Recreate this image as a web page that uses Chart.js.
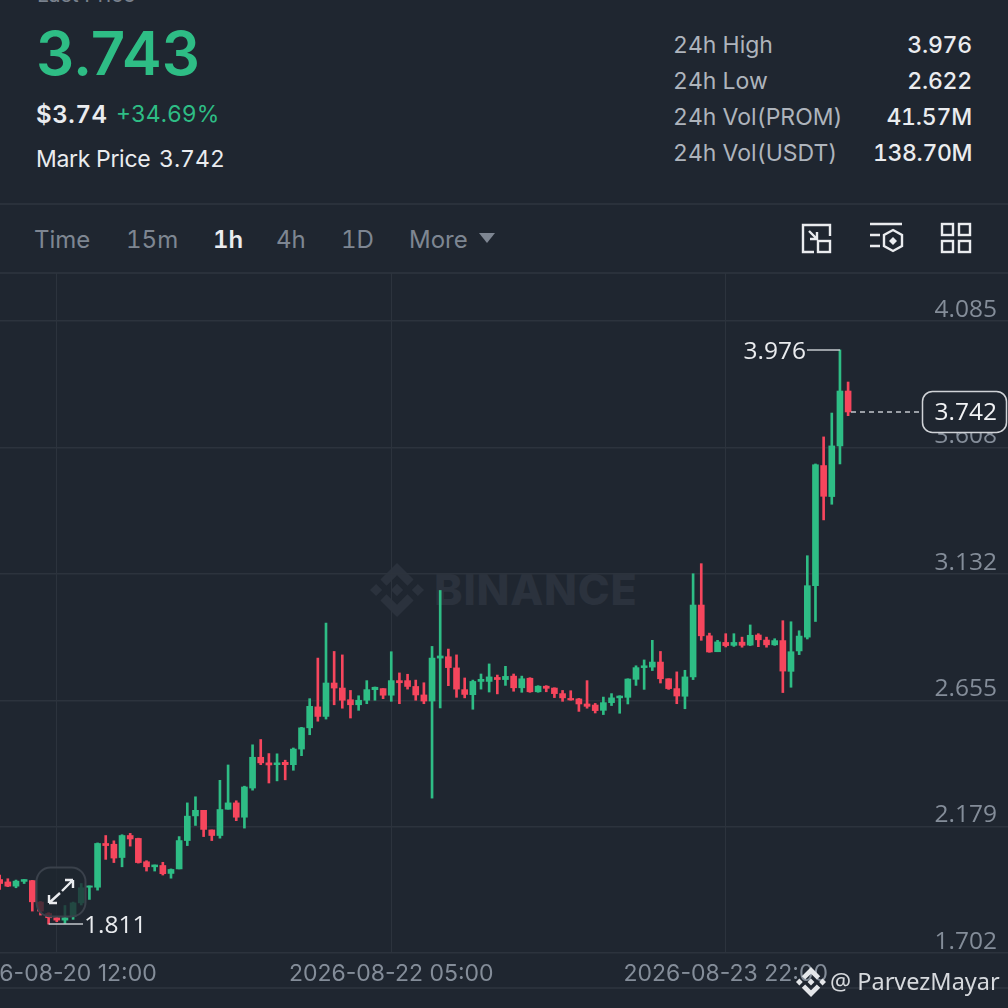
<!DOCTYPE html>
<html>
<head>
<meta charset="utf-8">
<script src="https://cdn.jsdelivr.net/npm/chart.js@4"></script>
<style>
    html, body { margin: 0; padding: 0; background: #1f2630; }
    body { position: relative; width: 1008px; height: 1008px; overflow: hidden; font-family: Inter, sans-serif; }
    .txt { position: absolute; white-space: nowrap; line-height: 1; font-variant-numeric: tabular-nums; }
    .line { position: absolute; left: 0; width: 1008px; height: 2px; background: #2a313b; }
    .grey { color: #aeb4bc; }
    .white { color: #eaecef; }
    .val { letter-spacing: -0.2px; }
    .tab { color: #7e8692; font-size: 24px; top: 228px; }
    #chart-box { position: absolute; left: 0; top: 273px; width: 1008px; height: 715px; }
    svg { position: absolute; }
</style>
</head>
<body>
    <div class="txt" style="left:37px;top:-16px;font-size:21px;color:#79818d">Last Price</div>
    <div class="txt" style="left:36px;top:23px;font-size:60px;font-weight:600;color:#2ebd85;font-variant-numeric:normal">3.743</div>
    <div class="txt white" style="left:36px;top:103px;font-size:24px;font-weight:600;letter-spacing:0.6px">$3.74</div>
    <div class="txt" style="left:116px;top:103px;font-size:23px;color:#2ebd85">+34.69%</div>
    <div class="txt white" style="left:36px;top:148px;font-size:23px;letter-spacing:-0.3px">Mark Price</div>
    <div class="txt white" style="left:159px;top:148px;font-size:23px">3.742</div>

    <div class="txt grey" style="left:673px;top:34px;font-size:23px">24h High</div>
    <div class="txt grey" style="left:673px;top:70px;font-size:23px">24h Low</div>
    <div class="txt grey" style="left:673px;top:106px;font-size:23px">24h Vol(PROM)</div>
    <div class="txt grey" style="left:673px;top:142px;font-size:23px">24h Vol(USDT)</div>
    <div class="txt white val" style="right:36px;top:34px;font-size:23px;font-weight:500">3.976</div>
    <div class="txt white val" style="right:36px;top:70px;font-size:23px;font-weight:500">2.622</div>
    <div class="txt white val" style="right:36px;top:106px;font-size:23px;font-weight:500">41.57M</div>
    <div class="txt white val" style="right:36px;top:142px;font-size:23px;font-weight:500;letter-spacing:-0.4px">138.70M</div>

    <div class="line" style="top:203px"></div>
    <div class="txt tab" style="left:34px">Time</div>
    <div class="txt tab" style="left:126px">15m</div>
    <div class="txt tab" style="left:213px;color:#eaecef;font-weight:600">1h</div>
    <div class="txt tab" style="left:276px">4h</div>
    <div class="txt tab" style="left:341px">1D</div>
    <div class="txt tab" style="left:409px">More</div>
    <svg style="left:479px;top:233px" width="16" height="11"><path d="M0 0H16L8 10Z" fill="#7e8692"/></svg>

    <svg style="left:800px;top:222px" width="33" height="33" fill="none" stroke="#eaecef" stroke-width="2.4">
        <path d="M14 30H3V3H30V14"/><rect x="18" y="19" width="12" height="11"/><path d="M9 9L17 17M17 10V17H10"/>
    </svg>
    <svg style="left:868px;top:222px" width="36" height="33" fill="none" stroke="#eaecef" stroke-width="2.4">
        <path d="M2 2H34M2 13H12M2 24H12"/><path d="M25 8L34 13V24L25 29L16 24V13Z"/><path d="M25 15L29 19L25 23L21 19Z" fill="#eaecef" stroke="none"/>
    </svg>
    <svg style="left:940px;top:222px" width="33" height="33" fill="none" stroke="#eaecef" stroke-width="2.4">
        <rect x="2" y="2" width="11" height="11"/><rect x="19" y="2" width="11" height="11"/>
        <rect x="2" y="19" width="11" height="11"/><rect x="19" y="19" width="11" height="11"/>
    </svg>

    <div class="line" style="top:272px"></div>

    <!-- faint watermark sits under the chart -->
    <svg style="left:370px;top:563px" width="54" height="54" viewBox="0 0 126.61 126.61" fill="#2b323d">
        <path d="M38.73 53.2l24.59-24.58 24.6 24.6 14.3-14.31L63.32 0 24.42 38.9z"/>
        <path d="M0 63.31l14.3-14.31 14.31 14.31-14.31 14.3z"/>
        <path d="M38.73 73.41L63.32 98l24.6-24.6 14.31 14.29-38.9 38.91-38.91-38.88-.02-.02z"/>
        <path d="M98 63.31l14.3-14.31 14.31 14.31-14.31 14.3z"/>
        <path d="M77.83 63.3L63.32 48.78 52.59 59.51l-1.24 1.23-2.54 2.54 14.51 14.5 14.51-14.5z"/>
    </svg>
    <div class="txt" style="left:434px;top:568px;font-size:43px;font-weight:800;letter-spacing:0.8px;color:#2b323d">BINANCE</div>

    <div id="chart-box"><canvas id="price-chart" width="1008" height="715"></canvas></div>
    <div class="line" style="top:987px"></div>

    <!-- expand button over the chart -->
    <svg style="left:35px;top:866px" width="52" height="52" fill="none">
        <rect x="1.5" y="1.5" width="49" height="49" rx="14" fill="rgba(31,38,48,0.78)" stroke="#3a414b" stroke-width="2"/>
        <path d="M14 37L25 27M14 37V29M14 37H22M38 14L27 25M38 14V22M38 14H30" stroke="#eaecef" stroke-width="2.4"/>
    </svg>

    <svg style="left:796px;top:967px" width="30" height="30" viewBox="0 0 126.61 126.61" fill="#e4e6e9">
        <path d="M38.73 53.2l24.59-24.58 24.6 24.6 14.3-14.31L63.32 0 24.42 38.9z"/>
        <path d="M0 63.31l14.3-14.31 14.31 14.31-14.31 14.3z"/>
        <path d="M38.73 73.41L63.32 98l24.6-24.6 14.31 14.29-38.9 38.91-38.91-38.88-.02-.02z"/>
        <path d="M98 63.31l14.3-14.31 14.31 14.31-14.31 14.3z"/>
        <path d="M77.83 63.3L63.32 48.78 52.59 59.51l-1.24 1.23-2.54 2.54 14.51 14.5 14.51-14.5z"/>
    </svg>
    <div class="txt" style="left:830px;top:970px;font-family:'Noto Sans';font-size:23.5px;color:#d6d9dd">@ ParvezMayar</div>

<script>
const FIRST_CANDLE = -7; // candles before the 08-20 12:00 grid line

const opens = [
    1.979, 1.970, 1.954, 1.972, 1.975, 1.894, 1.851,
    1.835, 1.826, 1.841, 1.891, 1.950, 1.950, 2.115, 2.112, 2.062, 2.145,
    2.134, 2.046, 2.027, 2.032, 2.002, 2.019, 2.126, 2.219, 2.240, 2.166,
    2.145, 2.244, 2.268, 2.214, 2.324, 2.440, 2.419, 2.412, 2.421, 2.412,
    2.471, 2.551, 2.630, 2.594, 2.720, 2.701, 2.657, 2.638, 2.655, 2.695,
    2.699, 2.674, 2.729, 2.729, 2.707, 2.675, 2.652, 2.814, 2.819, 2.777,
    2.695, 2.676, 2.726, 2.726, 2.741, 2.733, 2.746, 2.702, 2.738, 2.687,
    2.708, 2.701, 2.680, 2.662, 2.660, 2.641, 2.637, 2.617, 2.646, 2.664,
    2.666, 2.734, 2.778, 2.780, 2.799, 2.736, 2.699, 2.670, 2.743, 3.014,
    2.898, 2.838, 2.873, 2.862, 2.874, 2.863, 2.901, 2.882, 2.864, 2.880,
    2.764, 2.841, 2.893, 3.087, 3.540, 3.423, 3.614, 3.821
];
const highs = [
    1.996, 1.982, 1.977, 1.979, 1.976, 1.896, 1.854,
    1.837, 1.881, 1.894, 1.964, 1.955, 2.117, 2.145, 2.125, 2.148, 2.153,
    2.135, 2.050, 2.034, 2.044, 2.019, 2.141, 2.268, 2.291, 2.240, 2.166,
    2.353, 2.411, 2.276, 2.331, 2.487, 2.507, 2.454, 2.453, 2.429, 2.475,
    2.553, 2.661, 2.814, 2.946, 2.839, 2.826, 2.692, 2.672, 2.729, 2.705,
    2.699, 2.838, 2.758, 2.753, 2.731, 2.721, 2.858, 3.069, 2.848, 2.826,
    2.739, 2.731, 2.754, 2.792, 2.750, 2.783, 2.754, 2.746, 2.740, 2.710,
    2.710, 2.702, 2.692, 2.691, 2.662, 2.729, 2.643, 2.667, 2.680, 2.672,
    2.736, 2.785, 2.807, 2.881, 2.839, 2.736, 2.762, 2.768, 3.132, 3.170,
    2.908, 2.881, 2.906, 2.906, 2.893, 2.939, 2.906, 2.893, 2.887, 2.955,
    2.951, 2.917, 3.200, 3.546, 3.648, 3.738, 3.976, 3.855
];
const lows = [
    1.942, 1.952, 1.948, 1.964, 1.860, 1.845, 1.811,
    1.820, 1.813, 1.829, 1.883, 1.904, 1.939, 2.055, 2.043, 2.027, 2.105,
    2.041, 2.011, 2.011, 1.996, 1.984, 2.019, 2.107, 2.183, 2.141, 2.126,
    2.135, 2.244, 2.201, 2.173, 2.316, 2.412, 2.343, 2.351, 2.355, 2.391,
    2.446, 2.525, 2.576, 2.584, 2.638, 2.625, 2.588, 2.617, 2.642, 2.655,
    2.661, 2.651, 2.642, 2.697, 2.655, 2.642, 2.286, 2.626, 2.710, 2.666,
    2.664, 2.621, 2.697, 2.686, 2.679, 2.711, 2.689, 2.685, 2.685, 2.685,
    2.687, 2.665, 2.651, 2.655, 2.613, 2.625, 2.607, 2.601, 2.635, 2.606,
    2.641, 2.711, 2.696, 2.767, 2.720, 2.696, 2.642, 2.623, 2.733, 2.881,
    2.836, 2.838, 2.856, 2.858, 2.855, 2.861, 2.857, 2.855, 2.862, 2.684,
    2.704, 2.827, 2.886, 2.952, 3.335, 3.394, 3.546, 3.728
];
const closes = [
    1.964, 1.954, 1.973, 1.979, 1.895, 1.860, 1.835,
    1.826, 1.835, 1.891, 1.948, 1.955, 2.115, 2.107, 2.060, 2.145, 2.132,
    2.043, 2.027, 2.034, 2.001, 2.017, 2.126, 2.218, 2.240, 2.168, 2.145,
    2.243, 2.268, 2.214, 2.328, 2.440, 2.419, 2.411, 2.419, 2.412, 2.471,
    2.551, 2.632, 2.594, 2.720, 2.701, 2.655, 2.638, 2.655, 2.695, 2.704,
    2.674, 2.729, 2.721, 2.707, 2.675, 2.652, 2.814, 2.822, 2.778, 2.697,
    2.677, 2.726, 2.734, 2.743, 2.733, 2.745, 2.702, 2.736, 2.687, 2.708,
    2.700, 2.680, 2.664, 2.656, 2.641, 2.632, 2.616, 2.646, 2.664, 2.671,
    2.735, 2.778, 2.785, 2.799, 2.736, 2.699, 2.671, 2.743, 3.014, 2.898,
    2.837, 2.875, 2.861, 2.873, 2.862, 2.900, 2.883, 2.864, 2.880, 2.765,
    2.838, 2.897, 3.087, 3.543, 3.424, 3.614, 3.821, 3.742
];

const priceTicks = [4.085, 3.608, 3.132, 2.655, 2.179, 1.702];
const timeTicks = [0, 41, 82];
const timeLabels = ['2026-08-20 12:00', '2026-08-22 05:00', '2026-08-23 22:00'];

const highValue = 3.976;
const lowValue = 1.811;
const markValue = 3.742;

const GREEN = '#2ebd85';
const RED = '#f6465d';
const GRID = '#2c333d';

const candleNumbers = opens.map((o, i) => FIRST_CANDLE + i);
const candleColors = opens.map((o, i) => closes[i] >= o ? GREEN : RED);
const wickBars = candleNumbers.map((n, i) => ({ x: n, y: [lows[i], highs[i]] }));
const bodyBars = candleNumbers.map((n, i) => ({ x: n, y: [Math.min(opens[i], closes[i]), Math.max(opens[i], closes[i])] }));

//labels for the high, low and mark price, placed through the scales
const priceMarkers = {
    id: 'priceMarkers',
    afterDatasetsDraw(chart) {
        const { ctx, scales: { x, y } } = chart;
        ctx.save();
        ctx.font = '24.5px "Open Sans"';
        ctx.textBaseline = 'middle';

        //24h high
        const hiY = y.getPixelForValue(highValue);
        const hiX = x.getPixelForValue(96);
        ctx.strokeStyle = '#c4c8cd';
        ctx.lineWidth = 1.5;
        ctx.beginPath();
        ctx.moveTo(807, hiY);
        ctx.lineTo(hiX, hiY);
        ctx.stroke();
        ctx.fillStyle = '#eaecef';
        ctx.textAlign = 'right';
        ctx.fillText(highValue.toFixed(3), 806, hiY + 2);

        //24h low
        const loY = y.getPixelForValue(lowValue);
        ctx.beginPath();
        ctx.moveTo(x.getPixelForValue(-1), loY);
        ctx.lineTo(83, loY);
        ctx.stroke();
        ctx.textAlign = 'left';
        ctx.fillText(lowValue.toFixed(3), 84, loY + 2);

        //mark price dashed line and tag
        const markY = y.getPixelForValue(markValue);
        ctx.setLineDash([5, 4]);
        ctx.beginPath();
        ctx.moveTo(851, markY);
        ctx.lineTo(922, markY);
        ctx.stroke();
        ctx.setLineDash([]);
        ctx.beginPath();
        ctx.roundRect(922.5, markY - 20.5, 84, 41, 10);
        ctx.fillStyle = '#1f2630';
        ctx.fill();
        ctx.strokeStyle = '#d0d3d7';
        ctx.stroke();
        ctx.fillStyle = '#f2f3f5';
        ctx.textAlign = 'right';
        ctx.fillText(markValue.toFixed(3), 997, markY + 1);
        ctx.restore();
    }
};

const ctx = document.getElementById('price-chart').getContext('2d');
const priceChart = new Chart(ctx, {
    type: 'bar',
    data: {
        datasets: [
            {
                label: 'Wick',
                data: wickBars,
                backgroundColor: candleColors,
                barThickness: 2,
                grouped: false,
                borderSkipped: false
            },
            {
                label: 'Body',
                data: bodyBars,
                backgroundColor: candleColors,
                barThickness: 6,
                grouped: false,
                borderSkipped: false
            }
        ]
    },
    options: {
        responsive: false,
        animation: false,
        devicePixelRatio: 1,
        layout: { padding: 0 },
        plugins: {
            legend: { display: false },
            tooltip: { enabled: false }
        },
        scales: {
            x: {
                type: 'linear',
                min: -6.96,
                max: 116.6,
                offset: false,
                afterBuildTicks(scale) {
                    scale.ticks = timeTicks.map(value => ({ value }));
                },
                afterFit(scale) {
                    scale.height = 35;
                    scale.paddingLeft = 0;
                    scale.paddingRight = 0;
                },
                grid: { color: GRID, drawTicks: false, lineWidth: 1, offset: false },
                border: { display: false },
                ticks: {
                    autoSkip: false,
                    maxRotation: 0,
                    padding: 7,
                    color: '#848d99',
                    font: { family: 'Inter', size: 23 },
                    callback: value => timeLabels[timeTicks.indexOf(value)]
                }
            },
            y: {
                position: 'right',
                min: 1.702,
                max: 4.266,
                afterBuildTicks(scale) {
                    scale.ticks = priceTicks.map(value => ({ value }));
                },
                afterFit(scale) {
                    scale.width = 0;
                    scale.paddingTop = 0;
                    scale.paddingBottom = 0;
                },
                grid: { color: GRID, drawTicks: false, lineWidth: 1.5 },
                border: { display: false },
                ticks: {
                    mirror: true,
                    padding: -11,
                    labelOffset: -11,
                    color: '#848d99',
                    font: { family: 'Open Sans', size: 24.5 },
                    callback: value => value.toFixed(3)
                }
            }
        }
    },
    plugins: [priceMarkers]
});
</script>
</body>
</html>
